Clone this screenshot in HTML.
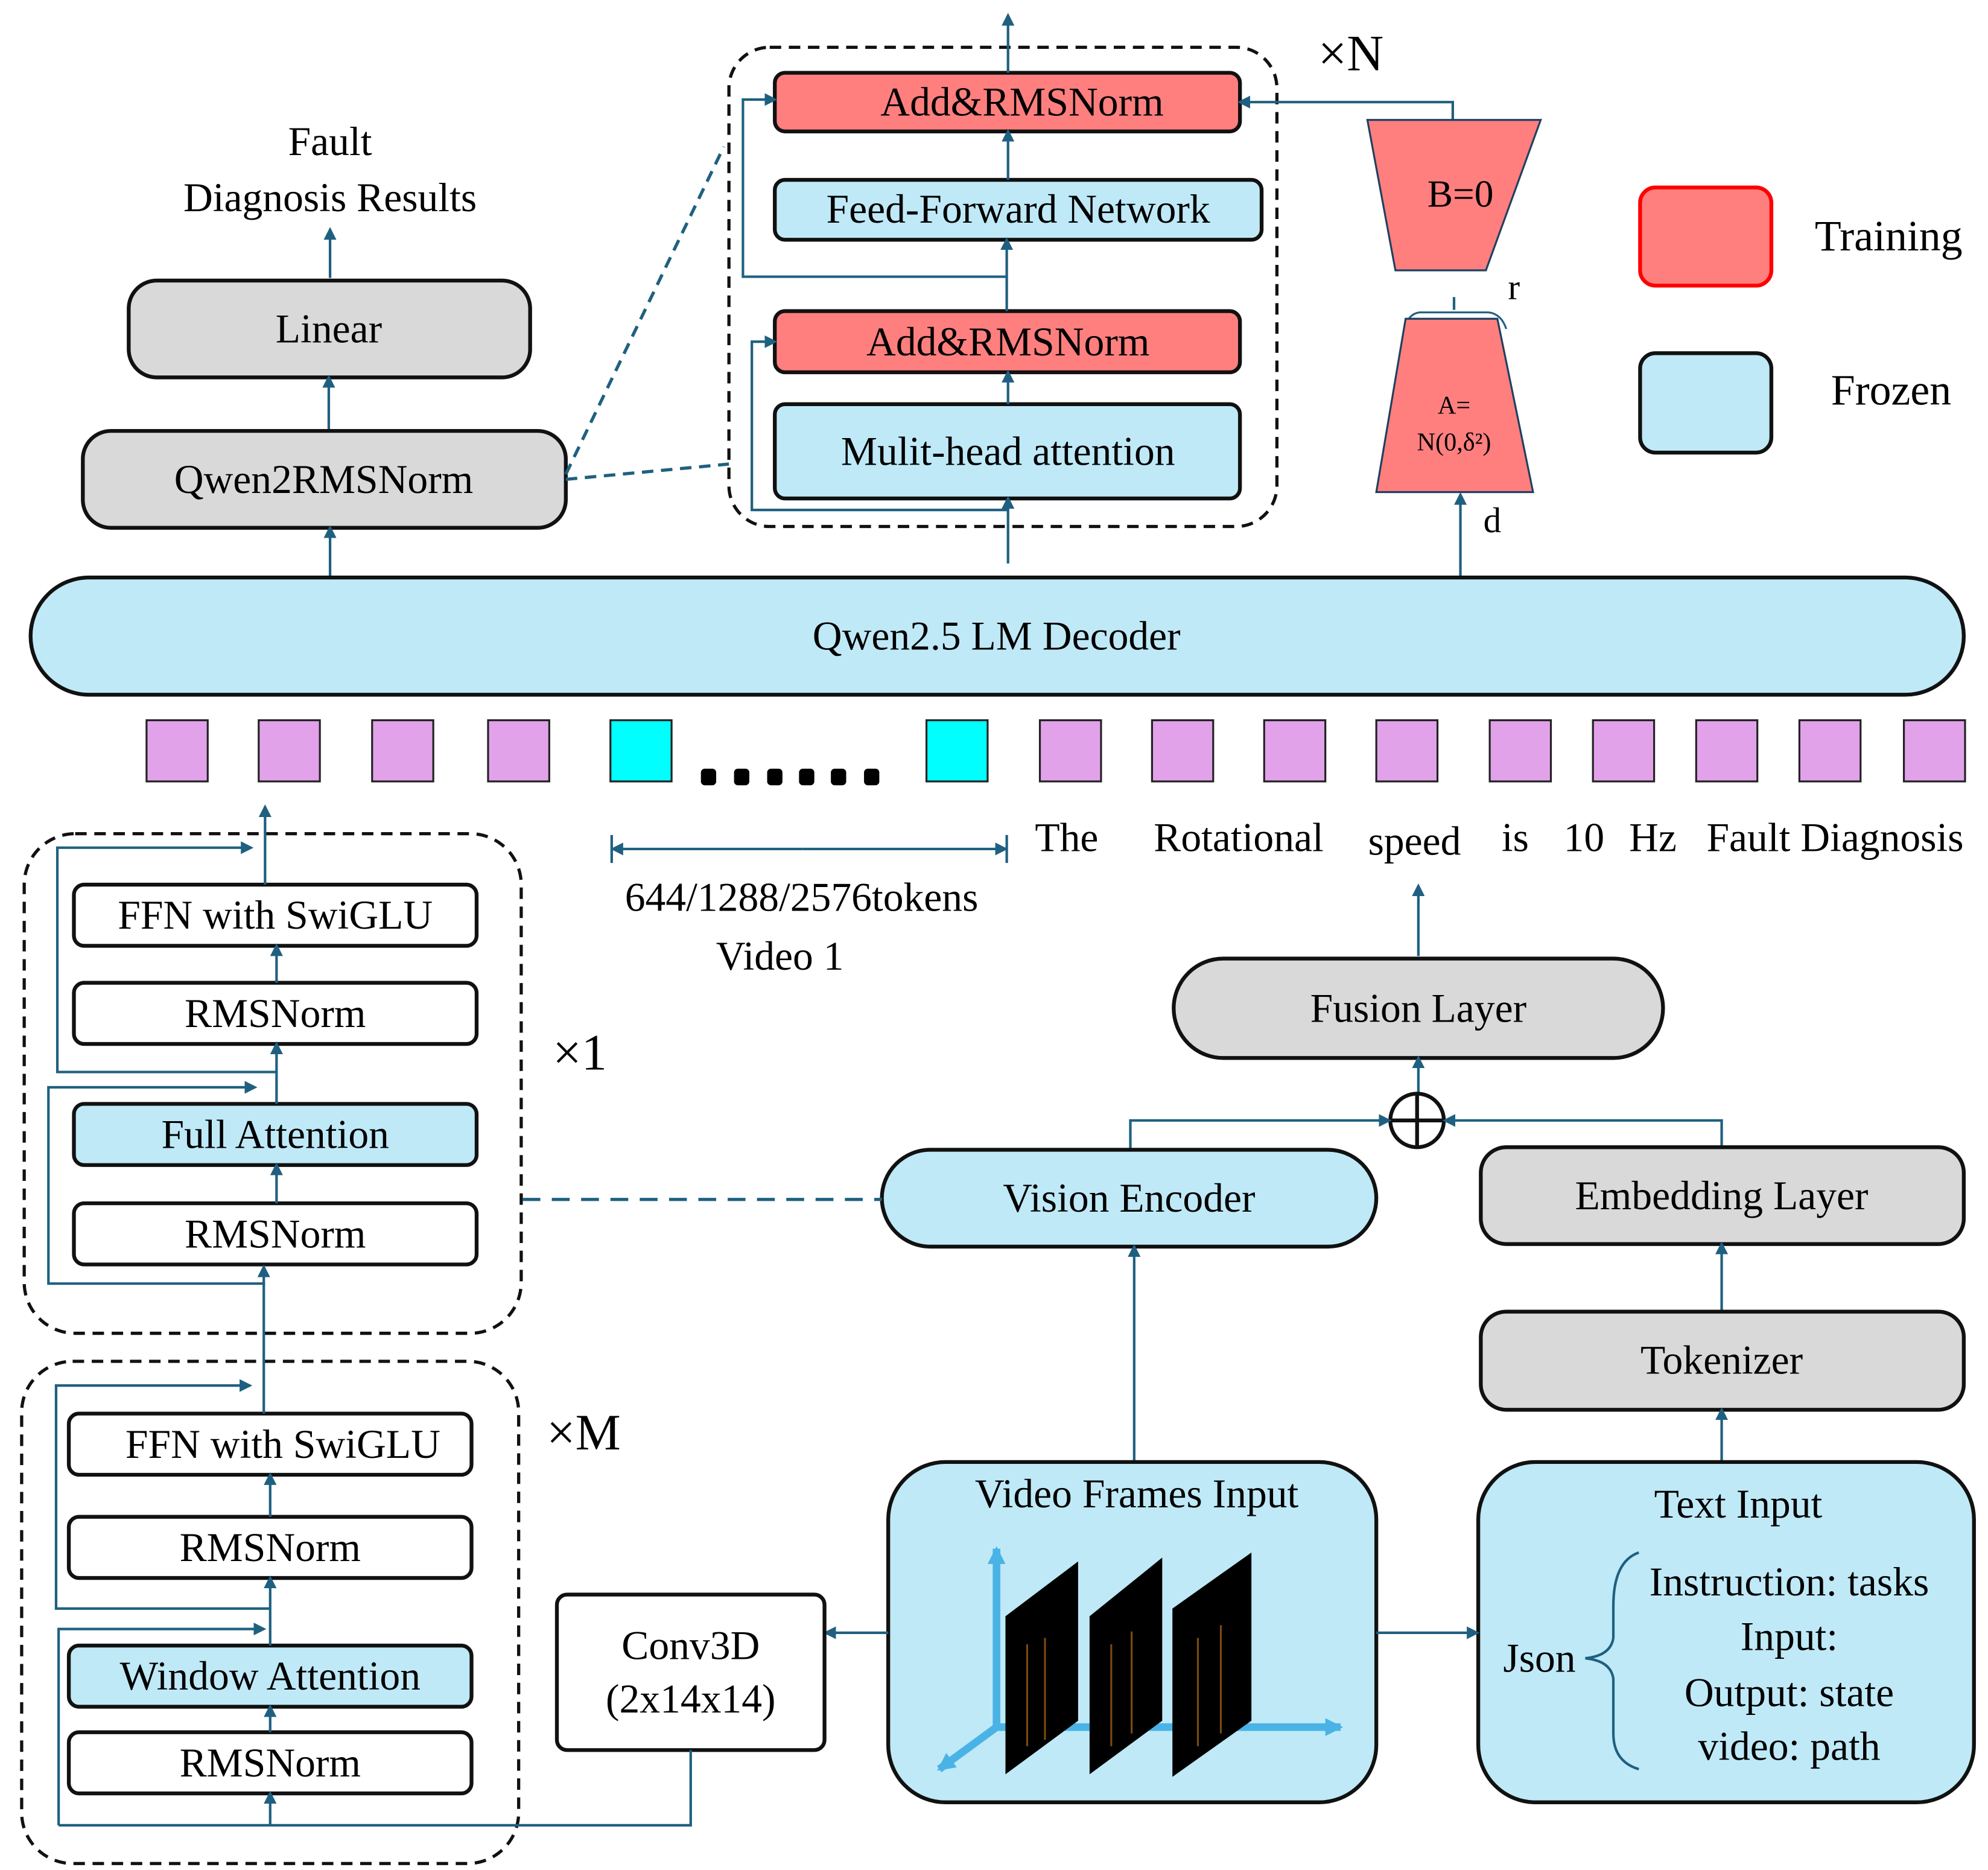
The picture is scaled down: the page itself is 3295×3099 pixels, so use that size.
<!DOCTYPE html>
<html><head><meta charset="utf-8"><style>html,body{margin:0;padding:0;background:#fff}svg{display:block}</style></head><body>
<svg xmlns="http://www.w3.org/2000/svg" width="3295" height="3099" viewBox="0 0 1560 1467" font-family="'Liberation Serif', serif" fill="#000">
<defs>
<marker id="a" markerWidth="10" markerHeight="10" refX="8" refY="5" orient="auto" markerUnits="userSpaceOnUse"><path d="M0,0 L10,5 L0,10 z" fill="#1f6080"/></marker>
<marker id="b" markerWidth="14" markerHeight="14" refX="12" refY="7" orient="auto" markerUnits="userSpaceOnUse"><path d="M0,0 L14,7 L0,14 z" fill="#4ab3e6"/></marker>
</defs>
<style>
.bl{fill:#bfe9f7;stroke:#111;stroke-width:3}
.rd{fill:#ff7f7f;stroke:#111;stroke-width:3}
.gy{fill:#d9d9d9;stroke:#111;stroke-width:3}
.wh{fill:#fff;stroke:#111;stroke-width:3}
.ds{fill:none;stroke:#111;stroke-width:2.5;stroke-dasharray:9 6}
.ln{fill:none;stroke:#1f6080;stroke-width:2}
.ar{fill:none;stroke:#1f6080;stroke-width:2;marker-end:url(#a)}
text{font-size:32px;text-anchor:middle;dominant-baseline:central}
.pu{fill:#e2a2ea;stroke:#222;stroke-width:1.5}
.cy{fill:#00ffff;stroke:#222;stroke-width:1.5}
</style>

<!-- top transformer block -->
<rect x="572" y="37" width="430" height="376" rx="32" class="ds"/>
<rect x="608" y="57" width="365" height="46" rx="8" class="rd"/><text x="802" y="80">Add&amp;RMSNorm</text>
<rect x="608" y="141" width="382" height="47" rx="8" class="bl"/><text x="799" y="164">Feed-Forward Network</text>
<rect x="608" y="244" width="365" height="48" rx="8" class="rd"/><text x="791" y="268">Add&amp;RMSNorm</text>
<rect x="608" y="317" width="365" height="74" rx="8" class="bl"/><text x="791" y="354">Mulit-head attention</text>
<path class="ar" d="M791,442 V391"/>
<path class="ar" d="M791,317 V292"/>
<path class="ar" d="M790,244 V188"/>
<path class="ar" d="M791,141 V103"/>
<path class="ar" d="M791,57 V12"/>
<path class="ar" d="M791,400 H590 V268 H608"/>
<path class="ar" d="M790,217 H583 V78 H608"/>
<path class="ar" d="M1140,94 V80 H973"/>
<text x="1060" y="42" style="font-size:40px">×N</text>

<!-- LoRA -->
<polygon points="1073,94 1209,94 1166,212 1095,212" fill="#ff7f7f" stroke="#1f4060" stroke-width="1.5"/>
<text x="1146" y="152" style="font-size:30px">B=0</text>
<text x="1188" y="225" style="font-size:28px">r</text>
<path class="ln" d="M1141,233 V243"/>
<path d="M1102,258 Q1105,246 1114,245 H1168 Q1178,246 1182,258" fill="none" stroke="#1f6080" stroke-width="1.5"/>
<polygon points="1103,250 1175,250 1203,386 1080,386" fill="#ff7f7f" stroke="#1f4060" stroke-width="1.5"/>
<text x="1141" y="318" style="font-size:20px">A=</text>
<text x="1141" y="347" style="font-size:20px">N(0,δ²)</text>
<path class="ar" d="M1146,452 V388"/>
<text x="1171" y="408" style="font-size:28px">d</text>

<!-- legend -->
<rect x="1287" y="147" width="103" height="77" rx="12" fill="#ff7f7f" stroke="#f00" stroke-width="3"/>
<text x="1482" y="185" style="font-size:34px">Training</text>
<rect x="1287" y="277" width="103" height="78" rx="12" fill="#bfe9f7" stroke="#111" stroke-width="3"/>
<text x="1484" y="306" style="font-size:34px">Frozen</text>

<!-- left top -->
<text x="259" y="111">Fault</text>
<text x="259" y="155">Diagnosis Results</text>
<path class="ar" d="M259,218 V180"/>
<rect x="101" y="220" width="315" height="76" rx="22" class="gy"/><text x="258" y="258">Linear</text>
<path class="ar" d="M258,338 V296"/>
<rect x="65" y="338" width="379" height="76" rx="22" class="gy"/><text x="254" y="376">Qwen2RMSNorm</text>
<path class="ar" d="M259,452 V414"/>
<path class="ds" d="M444,376 L572,364" style="stroke:#1f6080;stroke-width:2.5"/>
<path class="ds" d="M444,372 L568,115" style="stroke:#1f6080;stroke-width:2.5"/>

<!-- decoder -->
<rect x="24" y="453" width="1517" height="92" rx="46" class="bl"/>
<text x="782" y="499">Qwen2.5 LM Decoder</text>

<!-- tokens -->
<rect x="115" y="565" width="48" height="48" class="pu"/>
<rect x="203" y="565" width="48" height="48" class="pu"/>
<rect x="292" y="565" width="48" height="48" class="pu"/>
<rect x="383" y="565" width="48" height="48" class="pu"/>
<rect x="479" y="565" width="48" height="48" class="cy"/>
<g fill="#000"><rect x="550" y="603" width="12" height="13" rx="3"/><rect x="576" y="603" width="12" height="13" rx="3"/><rect x="602" y="603" width="12" height="13" rx="3"/><rect x="627" y="603" width="12" height="13" rx="3"/><rect x="652" y="603" width="12" height="13" rx="3"/><rect x="678" y="603" width="12" height="13" rx="3"/></g>
<rect x="727" y="565" width="48" height="48" class="cy"/>
<rect x="816" y="565" width="48" height="48" class="pu"/>
<rect x="904" y="565" width="48" height="48" class="pu"/>
<rect x="992" y="565" width="48" height="48" class="pu"/>
<rect x="1080" y="565" width="48" height="48" class="pu"/>
<rect x="1169" y="565" width="48" height="48" class="pu"/>
<rect x="1250" y="565" width="48" height="48" class="pu"/>
<rect x="1331" y="565" width="48" height="48" class="pu"/>
<rect x="1412" y="565" width="48" height="48" class="pu"/>
<rect x="1494" y="565" width="48" height="48" class="pu"/>
<text x="837" y="657">The</text>
<text x="972" y="657">Rotational</text>
<text x="1110" y="660">speed</text>
<text x="1189" y="657">is</text>
<text x="1243" y="657">10</text>
<text x="1297" y="657">Hz</text>
<text x="1440" y="657">Fault Diagnosis</text>
<path class="ln" d="M480,655 V677 M790,655 V677"/>
<path class="ar" d="M630,666 H789"/><path class="ar" d="M630,666 H481"/>
<text x="629" y="704">644/1288/2576tokens</text>
<text x="612" y="750">Video 1</text>

<!-- fusion -->
<path class="ar" d="M1113,750 V695"/>
<rect x="921" y="752" width="384" height="78" rx="39" class="gy"/><text x="1113" y="791">Fusion Layer</text>
<path class="ar" d="M1113,858 V830"/>
<circle cx="1112" cy="879" r="21" fill="#fff" stroke="#111" stroke-width="3"/>
<path d="M1091,879 H1133 M1112,858 V900" stroke="#111" stroke-width="3"/>
<path class="ar" d="M887,902 V879 H1090"/>
<path class="ar" d="M1351,900 V879 H1134"/>
<rect x="692" y="902" width="388" height="76" rx="38" class="bl"/><text x="886" y="940">Vision Encoder</text>
<rect x="1162" y="900" width="379" height="76" rx="20" class="gy"/><text x="1351" y="938">Embedding Layer</text>
<path class="ar" d="M1351,1029 V976"/>
<rect x="1162" y="1029" width="379" height="77" rx="20" class="gy"/><text x="1351" y="1067">Tokenizer</text>
<path class="ar" d="M1351,1147 V1106"/>
<path class="ar" d="M890,1147 V978"/>

<!-- video frames input -->
<rect x="697" y="1147" width="383" height="267" rx="45" class="bl"/>
<text x="892" y="1172">Video Frames Input</text>
<path d="M782,1355 V1215" stroke="#4ab3e6" stroke-width="6" fill="none" marker-end="url(#b)"/>
<path d="M782,1355 H1052" stroke="#4ab3e6" stroke-width="6" fill="none" marker-end="url(#b)"/>
<path d="M782,1355 L737,1388" stroke="#4ab3e6" stroke-width="6" fill="none" marker-end="url(#b)"/>
<polygon points="789,1268 846,1225 846,1350 789,1392" fill="#000"/>
<polygon points="855,1268 912,1222 912,1350 855,1392" fill="#000"/>
<polygon points="920,1262 982,1218 982,1350 920,1394" fill="#000"/>
<path d="M806,1290 V1370 M820,1285 V1365 M872,1290 V1370 M888,1280 V1360 M940,1285 V1370 M958,1275 V1360" stroke="#7a4a10" stroke-width="1.5"/>

<!-- text input -->
<rect x="1160" y="1147" width="389" height="267" rx="45" class="bl"/>
<text x="1364" y="1180">Text Input</text>
<text x="1208" y="1301">Json</text>
<path d="M1286,1218 Q1266,1225 1266,1260 V1285 Q1264,1299 1244,1301 Q1264,1303 1266,1317 V1360 Q1266,1382 1286,1388" fill="none" stroke="#1f6080" stroke-width="2"/>
<text x="1404" y="1241">Instruction: tasks</text>
<text x="1404" y="1284">Input:</text>
<text x="1404" y="1328">Output: state</text>
<text x="1404" y="1370">video: path</text>
<path class="ar" d="M1080,1281 H1159"/>
<path class="ar" d="M697,1281 H648"/>

<!-- conv3d -->
<rect x="437" y="1251" width="210" height="122" rx="8" class="wh"/>
<text x="542" y="1291">Conv3D</text>
<text x="542" y="1333">(2x14x14)</text>

<!-- x1 block -->
<rect x="19" y="654" width="390" height="392" rx="40" class="ds"/>
<text x="455" y="826" style="font-size:40px">×1</text>
<rect x="58" y="694" width="316" height="48" rx="8" class="wh"/><text x="216" y="718">FFN with SwiGLU</text>
<rect x="58" y="771" width="316" height="48" rx="8" class="wh"/><text x="216" y="795">RMSNorm</text>
<rect x="58" y="866" width="316" height="48" rx="8" class="bl"/><text x="216" y="890">Full Attention</text>
<rect x="58" y="944" width="316" height="48" rx="8" class="wh"/><text x="216" y="968">RMSNorm</text>
<path class="ar" d="M217,944 V914"/>
<path class="ar" d="M217,866 V819"/>
<path class="ar" d="M217,771 V742"/>
<path class="ar" d="M208,694 V633"/>
<path class="ar" d="M208,1007 H38 V853 H200"/>
<path class="ar" d="M217,841 H45 V665 H197"/>
<path class="ds" d="M410,941 H692" style="stroke:#1f6080;stroke-width:2.5;stroke-dasharray:14 9"/>

<!-- xM block -->
<rect x="17" y="1068" width="390" height="394" rx="40" class="ds"/>
<text x="458" y="1124" style="font-size:40px">×M</text>
<rect x="54" y="1109" width="316" height="48" rx="8" class="wh"/><text x="222" y="1133">FFN with SwiGLU</text>
<rect x="54" y="1190" width="316" height="48" rx="8" class="wh"/><text x="212" y="1214">RMSNorm</text>
<rect x="54" y="1291" width="316" height="48" rx="8" class="bl"/><text x="212" y="1315">Window Attention</text>
<rect x="54" y="1359" width="316" height="48" rx="8" class="wh"/><text x="212" y="1383">RMSNorm</text>
<path class="ar" d="M207,1109 V994"/>
<path class="ar" d="M212,1190 V1157"/>
<path class="ar" d="M212,1291 V1238"/>
<path class="ar" d="M212,1359 V1339"/>
<path class="ln" d="M542,1373 V1432 H46"/>
<path class="ar" d="M212,1432 V1407"/>
<path class="ar" d="M46,1432 V1278 H207"/>
<path class="ar" d="M212,1262 H44 V1087 H196"/>
</svg>
</body></html>
